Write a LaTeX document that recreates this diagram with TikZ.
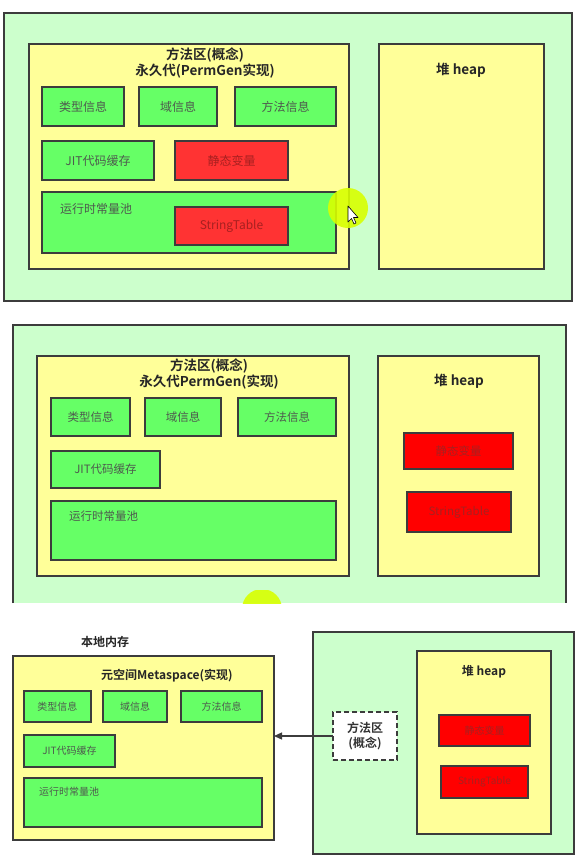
\documentclass[tikz,border=0pt]{standalone}
\usepackage{fontspec}
\setmainfont{Noto Sans CJK SC}[BoldFont={Noto Sans CJK SC Bold}]
\usetikzlibrary{arrows.meta}

\definecolor{outergreen}{HTML}{CCFFCC}
\definecolor{areayellow}{HTML}{FFFF99}
\definecolor{boxgreen}{HTML}{66FF66}
\definecolor{boxredA}{HTML}{FF3333}
\definecolor{boxredB}{HTML}{FF0000}
\definecolor{edgegray}{HTML}{3C3C3C}
\definecolor{labelgray}{HTML}{4E5A4E}
\definecolor{labelred}{HTML}{A82020}
\definecolor{cursorhalo}{HTML}{D8FF00}

% box placed by its two corners: style, name, x1, y1, x2, y2, text
\newcommand{\mkbox}[7]{%
  \node[#1, minimum width={#5-#3}, minimum height={#6-#4}]
    (#2) at ({(#3+#5)/2},{(#4+#6)/2}) {#7};}

\tikzset{
  frame/.style={draw=edgegray, line width=1.8pt, inner sep=0pt, outer sep=0pt},
  outer/.style={frame, fill=outergreen},
  container/.style={frame, fill=areayellow},
  gbox/.style={frame, fill=boxgreen, text=labelgray},
  rboxA/.style={frame, fill=boxredA, text=labelred},
  rboxB/.style={frame, fill=boxredB, text=labelred},
  concept/.style={draw=edgegray, line width=1.6pt, dash pattern=on 5pt off 3pt,
    fill=white, inner sep=0pt, outer sep=0pt, align=center,
    font=\bfseries\fontsize{12}{15}\selectfont, text=black!80},
  title/.style={font=\bfseries\fontsize{13.5}{16}\selectfont, text=black!85,
    align=center, inner sep=0pt},
  titlesmall/.style={font=\bfseries\fontsize{12}{15}\selectfont, text=black!85,
    align=center, inner sep=0pt},
  sizeA/.style={font=\fontsize{12}{14}\selectfont},
  sizeB/.style={font=\fontsize{11.5}{14}\selectfont},
  sizeC/.style={font=\fontsize{10}{12}\selectfont},
  poollabel/.style={text=labelgray, inner sep=0pt, anchor=west},
  halo/.style={fill=cursorhalo, opacity=0.9},
  link/.style={draw=edgegray, line width=1.3pt, -{Triangle[length=8pt,width=7pt]}},
}

\begin{document}
\begin{tikzpicture}[x=1pt, y=-1pt]
\useasboundingbox (0,0) rectangle (588,863);
\fill[white] (0,0) rectangle (588,863);

% ---------- permanent generation, static data inside ----------
\mkbox{outer}{p1mem}{4}{13}{572}{301}{}
\mkbox{container}{p1method}{29}{44}{349}{269}{}
\mkbox{container}{p1heap}{379}{44}{544}{269}{}
\node[title] (p1title) at (205,63) {方法区(概念)\\永久代(PermGen实现)};
\node[title] (p1heaplbl) at (461,70) {堆 heap};
\mkbox{gbox,sizeA}{p1type}{42}{87}{124}{126}{类型信息}
\mkbox{gbox,sizeA}{p1field}{139}{87}{217}{126}{域信息}
\mkbox{gbox,sizeA}{p1meth}{235}{87}{336}{126}{方法信息}
\mkbox{gbox,sizeA}{p1jit}{42}{141}{154}{180}{JIT代码缓存}
\mkbox{rboxA,sizeA}{p1static}{175}{141}{288}{180}{静态变量}
\mkbox{gbox}{p1pool}{42}{192}{336}{253}{}
\node[poollabel, sizeA] (p1poollbl) at (60,209) {运行时常量池};
\mkbox{rboxA,sizeA}{p1str}{175}{207}{288}{245}{StringTable}
% pointer highlight
\fill[halo] (348,208) circle (20);
\draw[fill=white, line width=0.6pt, line join=round]
  (348,206) -- (348,222) -- (351.5,218.5) -- (354,224) -- (356,223)
  -- (353.5,217.5) -- (358,217.5) -- cycle;

% ---------- permanent generation, static data in heap ----------
\fill[outergreen] (13,325) rectangle (566,603);
\draw[edgegray, line width=1.8pt] (13,603) -- (13,325) -- (566,325) -- (566,603);
\mkbox{container}{p2method}{37}{356}{349}{576}{}
\mkbox{container}{p2heap}{378}{356}{539}{576}{}
\node[title] (p2title) at (209,374.5) {方法区(概念)\\永久代PermGen(实现)};
\node[title] (p2heaplbl) at (459,381) {堆 heap};
\mkbox{gbox,sizeB}{p2type}{51}{398}{130}{436}{类型信息}
\mkbox{gbox,sizeB}{p2field}{145}{398}{221}{436}{域信息}
\mkbox{gbox,sizeB}{p2meth}{238}{398}{336}{436}{方法信息}
\mkbox{gbox,sizeB}{p2jit}{51}{451}{160}{488}{JIT代码缓存}
\mkbox{gbox}{p2pool}{51}{501}{336}{560}{}
\node[poollabel, sizeB] (p2poollbl) at (69,516) {运行时常量池};
\mkbox{rboxB,sizeB}{p2static}{404}{433}{513}{469}{静态变量}
\mkbox{rboxB,sizeB}{p2str}{407}{492}{511}{532}{StringTable}
\begin{scope}
  \clip (0,590) rectangle (588,603);
  \fill[halo] (262,609) circle (20);
\end{scope}

% ---------- metaspace in native memory ----------
\node[titlesmall] (p3native) at (105,642) {本地内存};
\mkbox{container}{p3meta}{13}{656}{274}{840}{}
\node[titlesmall] (p3title) at (167,676) {元空间Metaspace(实现)};
\mkbox{gbox,sizeC}{p3type}{24}{691}{91}{722}{类型信息}
\mkbox{gbox,sizeC}{p3field}{103}{691}{167}{722}{域信息}
\mkbox{gbox,sizeC}{p3meth}{181}{691}{262}{722}{方法信息}
\mkbox{gbox,sizeC}{p3jit}{24}{735}{115}{767}{JIT代码缓存}
\mkbox{gbox}{p3pool}{24}{778}{262}{827}{}
\node[poollabel, sizeC] (p3poollbl) at (39,792) {运行时常量池};

\mkbox{outer}{p3mem}{313}{632}{574}{854}{}
\mkbox{container}{p3heap}{417}{651}{551}{834}{}
\node[titlesmall] (p3heaplbl) at (484,672) {堆 heap};
\mkbox{rboxB,sizeC}{p3static}{439}{715}{530}{746}{静态变量}
\mkbox{rboxB,sizeC}{p3str}{441}{766}{528}{798}{StringTable}
\mkbox{concept}{p3concept}{333}{712}{397}{760}{方法区\\(概念)}

\draw[link] (p3concept.west) -- (p3concept.west -| p3meta.east);
\end{tikzpicture}
\end{document}
